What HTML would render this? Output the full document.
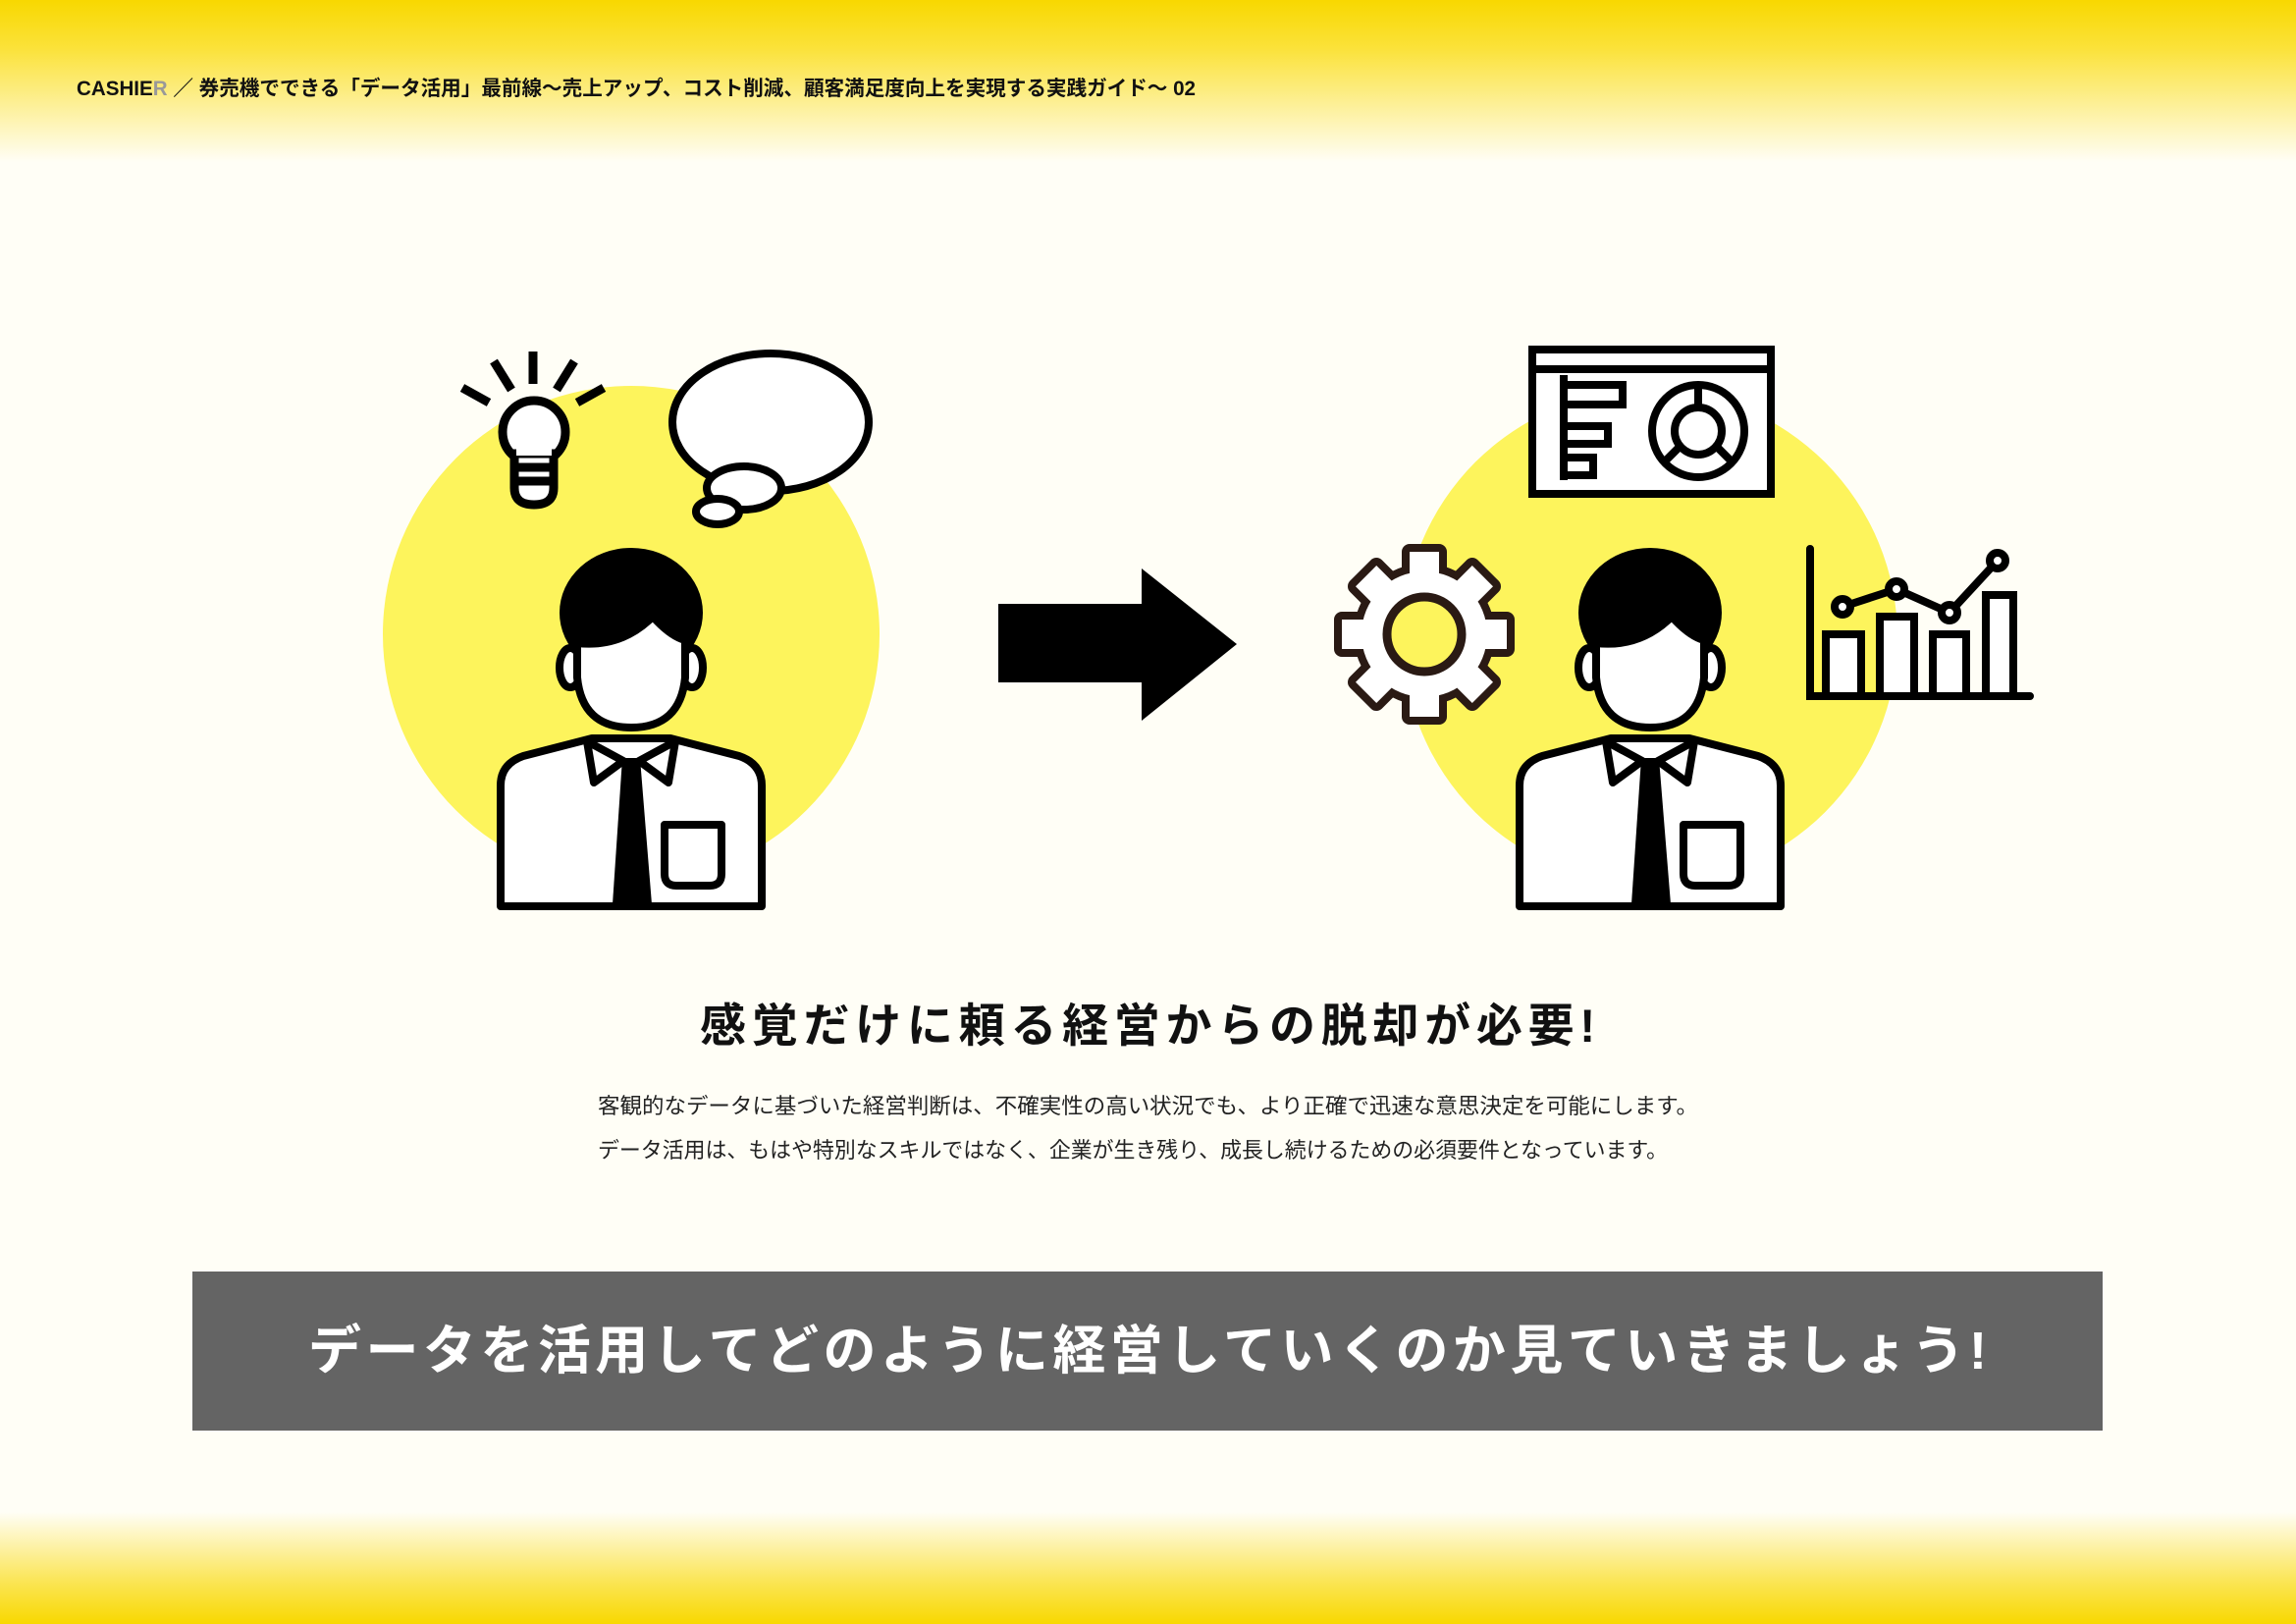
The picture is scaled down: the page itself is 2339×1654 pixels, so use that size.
<!DOCTYPE html>
<html><head><meta charset="utf-8"><style>
html,body{margin:0;padding:0;}
body{width:2339px;height:1654px;overflow:hidden;background:#fffef6;}
svg{display:block}
text{font-family:"Liberation Sans","Noto Sans CJK JP",sans-serif;}
</style></head><body>
<svg width="2339" height="1654" viewBox="0 0 2339 1654" xmlns="http://www.w3.org/2000/svg">
<defs>
<linearGradient id="gt" x1="0" y1="0" x2="0" y2="1">
<stop offset="0" stop-color="#f8d800"/><stop offset="0.3" stop-color="#fbe23a"/><stop offset="1" stop-color="#fffef6"/></linearGradient>
<linearGradient id="gb" x1="0" y1="0" x2="0" y2="1">
<stop offset="0" stop-color="#fffef6"/><stop offset="0.6" stop-color="#fbe65a"/><stop offset="1" stop-color="#f8d800"/></linearGradient>
<g id="person" stroke="#000" stroke-width="8" stroke-linejoin="round">
<ellipse cx="0" cy="624" rx="73" ry="66" fill="#000" stroke="none"/>
<ellipse cx="-62" cy="680" rx="11" ry="20" fill="#fff"/>
<ellipse cx="62" cy="680" rx="11" ry="20" fill="#fff"/>
<path d="M-55 655 Q-10 660 22 628 Q40 648 55 652 L55 690 Q50 741 0 741 Q-50 741 -55 690 Z" fill="#fff"/>
<path d="M-133 923 L-133 800 Q-133 778 -110 770 L-40 752 L40 752 L110 770 Q133 778 133 800 L133 923 Z" fill="#fff"/>
<path d="M-45 755 L-38 797 L-8 775 Z" fill="#fff"/>
<path d="M45 755 L38 797 L8 775 Z" fill="#fff"/>
<path d="M-9 772 L9 772 L21 921 L-19 921 Z" fill="#000" stroke="none"/>
<path d="M34 840 L92 840 L92 890 Q92 902 80 902 L46 902 Q34 902 34 890 Z" fill="#fff"/>
</g>
</defs>
<rect x="0" y="0" width="2339" height="165" fill="url(#gt)"/>
<rect x="0" y="1540" width="2339" height="114" fill="url(#gb)"/>
<text x="78" y="97" font-size="21" font-weight="bold" fill="#111" textLength="1140" lengthAdjust="spacingAndGlyphs">CASHIE<tspan fill="#999">R</tspan> ／ 券売機でできる「データ活用」最前線～売上アップ、コスト削減、顧客満足度向上を実現する実践ガイド～ 02</text>

<circle cx="643" cy="646" r="253" fill="#fdf45c"/>
<circle cx="1681" cy="649" r="252" fill="#fdf45c"/>

<!-- bulb -->
<g stroke="#000" stroke-width="9" stroke-linecap="butt" fill="none">
<line x1="543" y1="358" x2="543" y2="391"/>
<line x1="503" y1="368" x2="521" y2="397"/>
<line x1="585" y1="368" x2="567" y2="397"/>
<line x1="471" y1="395" x2="498" y2="410"/>
<line x1="615" y1="395" x2="588" y2="410"/>
<circle cx="544" cy="440" r="32" fill="#fff"/>
<path d="M524 462 L524 497 Q524 514 544 514 Q564 514 564 497 L564 462 Z" fill="#fff"/>
<line x1="524" y1="476" x2="564" y2="476"/>
<line x1="524" y1="490" x2="564" y2="490"/>
</g>
<rect x="526" y="455" width="36" height="9" fill="#fff"/>
<!-- thought bubble -->
<g stroke="#000" stroke-width="8" fill="#fff">
<ellipse cx="785" cy="430" rx="100" ry="70"/>
<ellipse cx="758" cy="497" rx="38" ry="22"/>
<ellipse cx="731" cy="521" rx="22" ry="13"/>
</g>
<use href="#person" x="643" y="0"/>

<!-- arrow -->
<path d="M1017 615 L1163 615 L1163 579 L1260 656 L1163 734 L1163 695 L1017 695 Z" fill="#000"/>

<!-- dashboard -->
<g stroke="#000" stroke-width="8" fill="#fff">
<rect x="1561" y="356" width="243" height="147"/>
<line x1="1561" y1="376" x2="1804" y2="376"/>
<line x1="1593" y1="382" x2="1593" y2="489"/>
<rect x="1593" y="392" width="60" height="20"/>
<rect x="1593" y="434" width="45" height="18"/>
<rect x="1593" y="466" width="30" height="18"/>
<circle cx="1730" cy="439" r="47"/>
<circle cx="1730" cy="439" r="24"/>
<line x1="1730" y1="393" x2="1730" y2="415"/>
<line x1="1712" y1="454" x2="1696" y2="470"/>
<line x1="1748" y1="454" x2="1764" y2="470"/>
</g>

<!-- gear -->
<g transform="translate(1451,646)">
<g stroke="#2a1a14" stroke-width="16" stroke-linejoin="round" fill="#2a1a14">
<circle r="64"/>
<rect x="-15" y="-84" width="30" height="40" transform="rotate(0)"/>
<rect x="-15" y="-84" width="30" height="40" transform="rotate(45)"/>
<rect x="-15" y="-84" width="30" height="40" transform="rotate(90)"/>
<rect x="-15" y="-84" width="30" height="40" transform="rotate(135)"/>
<rect x="-15" y="-84" width="30" height="40" transform="rotate(180)"/>
<rect x="-15" y="-84" width="30" height="40" transform="rotate(225)"/>
<rect x="-15" y="-84" width="30" height="40" transform="rotate(270)"/>
<rect x="-15" y="-84" width="30" height="40" transform="rotate(315)"/>
</g>
<g fill="#fff">
<circle r="64"/>
<rect x="-15" y="-84" width="30" height="40" transform="rotate(0)"/>
<rect x="-15" y="-84" width="30" height="40" transform="rotate(45)"/>
<rect x="-15" y="-84" width="30" height="40" transform="rotate(90)"/>
<rect x="-15" y="-84" width="30" height="40" transform="rotate(135)"/>
<rect x="-15" y="-84" width="30" height="40" transform="rotate(180)"/>
<rect x="-15" y="-84" width="30" height="40" transform="rotate(225)"/>
<rect x="-15" y="-84" width="30" height="40" transform="rotate(270)"/>
<rect x="-15" y="-84" width="30" height="40" transform="rotate(315)"/>
</g>
<circle r="38" fill="#fdf45c" stroke="#2a1a14" stroke-width="9"/>
</g>

<!-- chart -->
<g stroke="#000" stroke-width="8" fill="#fff" stroke-linecap="round">
<polyline points="1844,559 1844,709 2068,709" fill="none"/>
<rect x="1860" y="646" width="36" height="63"/>
<rect x="1915" y="628" width="35" height="81"/>
<rect x="1969" y="646" width="34" height="63"/>
<rect x="2023" y="606" width="28" height="103"/>
<polyline points="1877,618 1932,600 1986,624 2035,571" fill="none"/>
<circle cx="1877" cy="618" r="8"/>
<circle cx="1932" cy="600" r="8"/>
<circle cx="1986" cy="624" r="8"/>
<circle cx="2035" cy="571" r="8"/>
</g>

<use href="#person" x="1681" y="0"/>

<text x="1169" y="1061" font-size="47" font-weight="bold" fill="#111" text-anchor="middle" textLength="912" lengthAdjust="spacing">感覚だけに頼る経営からの脱却が必要!</text>
<text x="609" y="1134" font-size="22" fill="#222" textLength="1121" lengthAdjust="spacingAndGlyphs">客観的なデータに基づいた経営判断は、不確実性の高い状況でも、より正確で迅速な意思決定を可能にします。</text>
<text x="609" y="1179" font-size="22" fill="#222" textLength="1090" lengthAdjust="spacingAndGlyphs">データ活用は、もはや特別なスキルではなく、企業が生き残り、成長し続けるための必須要件となっています。</text>

<rect x="196" y="1295" width="1946" height="162" fill="#646464"/>
<text x="1169" y="1394" font-size="54" font-weight="bold" fill="#fff" text-anchor="middle" textLength="1710" lengthAdjust="spacing">データを活用してどのように経営していくのか見ていきましょう!</text>
</svg>
</body></html>
